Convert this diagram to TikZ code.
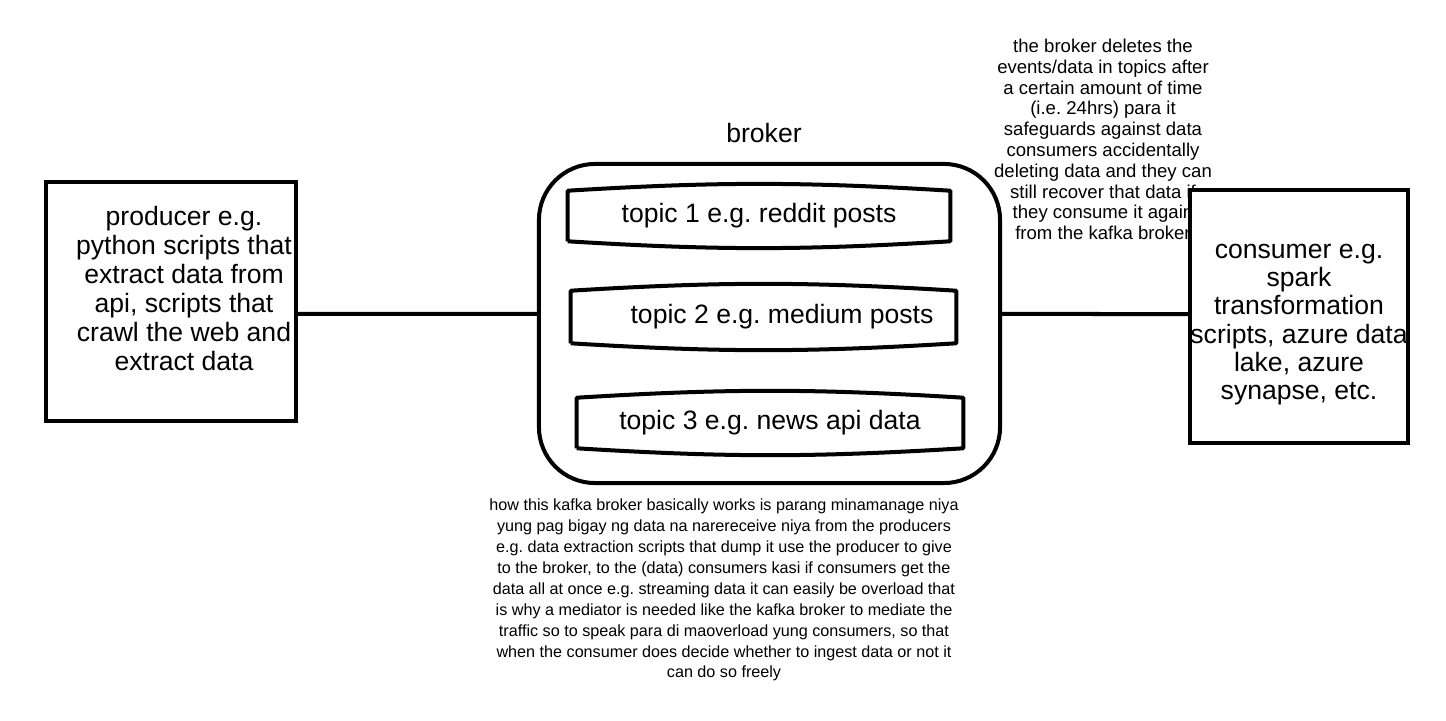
\documentclass[tikz,border=0pt]{standalone}
\usepackage{fontspec}
\setmainfont{Liberation Sans}
\frenchspacing
\begin{document}
\begin{tikzpicture}[x=0.025cm, y=0.025cm]
\tikzstyle{every node}+=[inner sep=0pt]
\tikzstyle{box}=[draw=black, fill=white, line width=2.85pt, rectangle]
\tikzstyle{outline}=[black, line width=2.85pt, line join=round]
\tikzstyle{bigtext}=[align=center, font=\fontsize{18.9}{20.6}\selectfont]
\tikzstyle{topic}=[rectangle, minimum height=1.25cm, font=\fontsize{18.9}{20.6}\selectfont]
\tikzstyle{sidenote}=[align=center, font=\fontsize{13.2}{14.8}\selectfont]
\tikzstyle{footnote}=[align=center, font=\fontsize{11.5}{14.9}\selectfont]
\useasboundingbox (0,0) rectangle (1446,-721);
% notes first, the consumer box hides part of the side note
\node [sidenote] (retention) at (1103,-139.5) {the broker deletes the\\events/data in topics after\\a certain amount of time\\(i.e. 24hrs) para it\\safeguards against data\\consumers accidentally\\deleting data and they can\\still recover that data if\\they consume it again\\from the kafka broker};
\node [footnote] (explain) at (724,-590) {how this kafka broker basically works is parang minamanage niya\\yung pag bigay ng data na narereceive niya from the producers\\e.g. data extraction scripts that dump it use the producer to give\\to the broker, to the (data) consumers kasi if consumers get the\\data all at once e.g. streaming data it can easily be overload that\\is why a mediator is needed like the kafka broker to mediate the\\traffic so to speak para di maoverload yung consumers, so that\\when the consumer does decide whether to ingest data or not it\\can do so freely};
% producer
\node [box, minimum width=6.25cm, minimum height=5.975cm] (producer) at (171,-301.5) {};
\node [bigtext] (producertext) at (184,-288.5) {producer e.g.\\python scripts that\\extract data from\\api, scripts that\\crawl the web and\\extract data};
% consumer
\node [box, minimum width=5.45cm, minimum height=6.325cm] (consumer) at (1299,-316.5) {};
\node [bigtext, font=\fontsize{18.9}{20.1}\selectfont] (consumertext) at (1299,-324.5) {consumer e.g.\\spark\\transformation\\scripts, azure data\\lake, azure\\synapse, etc.};
% broker
\node [draw=black, line width=2.85pt, rounded corners=1.4cm, minimum width=11.525cm, minimum height=7.975cm] (broker) at (769.5,-323.5) {};
\node [bigtext] (brokerlabel) at (764,-133) {broker};
\node [topic, minimum width=9.55cm] (topic1) at (759,-216) {topic 1 e.g. reddit posts};
\node [topic, minimum width=9.625cm, minimum height=1.3cm] (topic2) at (763.5,-317) {\hspace*{0.925cm}topic 2 e.g. medium posts};
\node [topic, minimum width=9.65cm] (topic3) at (770,-423) {topic 3 e.g. news api data};
\draw [outline] (topic1.south west) -- (topic1.north west) to [bend left=3.5] (topic1.north east) -- (topic1.south east) to [bend left=3.5] (topic1.south west);
\draw [outline] (topic2.south west) -- (topic2.north west) to [bend left=3.5] (topic2.north east) -- (topic2.south east) to [bend left=3.5] (topic2.south west);
\draw [outline] (topic3.south west) -- (topic3.north west) to [bend left=3.5] (topic3.north east) -- (topic3.south east) to [bend left=3.5] (topic3.south west);
% links
\draw [outline] ([yshift=-0.31cm]producer.east) -- ([yshift=0.24cm]broker.west);
\draw [outline] ([yshift=0.24cm]broker.east) -- ([yshift=0.06cm]consumer.west);
\end{tikzpicture}
\end{document}
